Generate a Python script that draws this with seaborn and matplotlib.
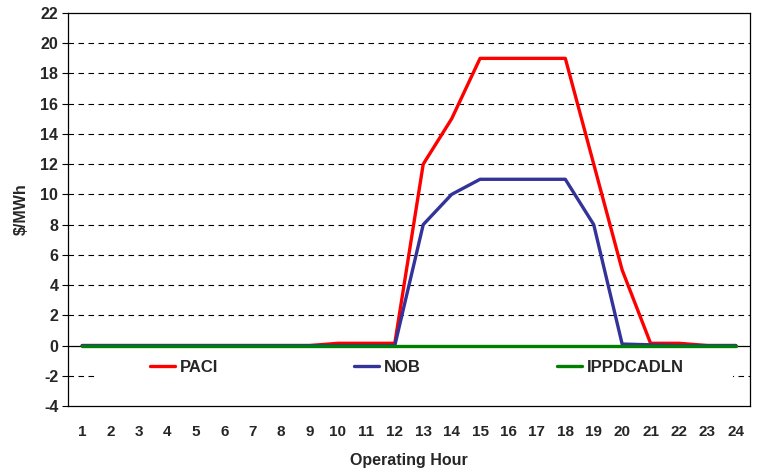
import matplotlib
matplotlib.use("Agg")

import matplotlib.pyplot as plt
from matplotlib.patches import Rectangle
import seaborn as sns
import pandas as pd
import numpy as np


# ==================================================
# Data
# ==================================================

hours = list(range(1, 25))

paci = [0, 0, 0, 0, 0, 0, 0, 0, 0, 0.15, 0.15, 0.15,
        12, 15, 19, 19, 19, 19, 12, 5, 0.15, 0.15, 0, 0]

nob = [0, 0, 0, 0, 0, 0, 0, 0, 0, 0, 0, 0,
       8, 10, 11, 11, 11, 11, 8, 0.1, 0.05, 0, 0, 0]

ippdcadln = [0] * 24

series_names = ["PACI", "NOB", "IPPDCADLN"]

series_colors = ["#FF0000", "#333399", "#008000"]

y_ticks = list(range(-4, 23, 2))


# ==================================================
# Long-form table
# ==================================================

df = pd.DataFrame({
    "hour": hours * 3,
    "value": paci + nob + ippdcadln,
    "series": (["PACI"] * 24) + (["NOB"] * 24) + (["IPPDCADLN"] * 24)
})


# ==================================================
# Figure
# ==================================================

sns.set_style("white")

plt.rcParams["font.family"] = ["Liberation Sans", "DejaVu Sans"]
plt.rcParams["font.weight"] = "bold"

fig = plt.figure(figsize=(7.57, 4.73), dpi=100)

ax = fig.add_axes([0.0898, 0.1416, 0.9010, 0.8309])

sns.lineplot(
    data=df,
    x="hour",
    y="value",
    hue="series",
    hue_order=series_names,
    palette=series_colors,
    linewidth=2.4,
    ax=ax,
    zorder=3
)


# ==================================================
# Axes
# ==================================================

ax.set_xlim(0.5, 24.5)
ax.set_ylim(-4, 22)

ax.set_yticks(y_ticks)
ax.set_yticklabels([str(t) for t in y_ticks], fontsize=11.5, fontweight="bold")

ax.set_xticks(hours)
ax.set_xticklabels(
    [str(h) for h in hours],
    fontsize=11,
    fontweight="bold"
)

ax.tick_params(axis="x", length=0, pad=14)
ax.tick_params(axis="y", direction="out", length=4, width=0.8, color="black", pad=3, left=True)

for side in ["left", "right", "top", "bottom"]:
    ax.spines[side].set_visible(True)
    ax.spines[side].set_color("black")
    ax.spines[side].set_linewidth(0.9)

# dashed horizontal grid
for t in y_ticks:
    if t in (-4, 0, 22):
        continue
    ax.axhline(t, color="black", linestyle=(0, (5, 4)), linewidth=0.8, zorder=0.5)

# category axis crossing at zero
ax.axhline(0, color="black", linewidth=0.9, zorder=1)
ax.vlines(np.arange(1.5, 24, 1), -0.3, 0, color="black", linewidth=0.8, zorder=1)

# white box behind legend hides part of the -2 gridline
ax.add_patch(Rectangle(
    (0.04, 0.04), 0.935, 0.11,
    transform=ax.transAxes,
    facecolor="white",
    edgecolor="none",
    zorder=1
))

ax.set_xlabel("Operating Hour", fontsize=11.5, fontweight="bold", labelpad=10)
ax.set_ylabel("$/MWh", fontsize=11.5, fontweight="bold", labelpad=8)


# ==================================================
# Legend
# ==================================================

handles, labels = ax.get_legend_handles_labels()

ax.legend(
    handles,
    labels,
    ncol=3,
    loc="center left",
    bbox_to_anchor=(0.098, 0.099),
    frameon=False,
    handlelength=1.5,
    handletextpad=0.3,
    columnspacing=8.15,
    prop={"weight": "bold", "size": 12}
)

fig.savefig("out.png", dpi=100)
